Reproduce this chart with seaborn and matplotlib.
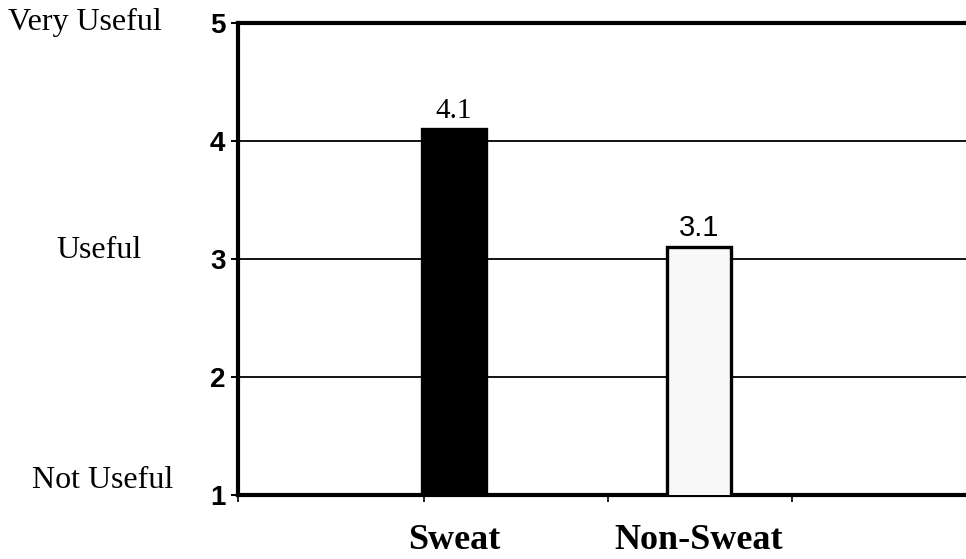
import matplotlib
matplotlib.use("Agg")
import matplotlib.pyplot as plt
import seaborn as sns
import pandas as pd

# Data
categories = ["Sweat", "Non-Sweat"]
ratings = [4.1, 3.1]
rating_labels = ["4.1", "3.1"]
scale_labels = ["Very Useful", "Useful", "Not Useful"]
y_ticks = [1, 2, 3, 4, 5]

sns.set_theme(style="white")
plt.rcParams["font.family"] = ["Liberation Sans", "DejaVu Sans"]
plt.rcParams["text.color"] = "black"
plt.rcParams["xtick.color"] = "black"
plt.rcParams["ytick.color"] = "black"

W, H = 966, 559
fig = plt.figure(figsize=(W / 100, H / 100), dpi=100)
ax_left, ax_right, ax_top, ax_bottom = 238, 966, 23, 495
ax = fig.add_axes([ax_left / W, (H - ax_bottom) / H,
                   (ax_right - ax_left) / W, (ax_bottom - ax_top) / H])

df = pd.DataFrame({"group": categories, "rating": ratings})
sns.barplot(data=df, x="group", y="rating", hue="group",
            palette=["#000000", "#f8f8f8"], order=categories,
            width=0.26, edgecolor="black", linewidth=2.4,
            legend=False, ax=ax, zorder=3)

# horizontal grid lines
for v in y_ticks[1:-1]:
    ax.axhline(v, color="black", lw=1.3, zorder=1)

ax.set_ylim(1, 5)
ax.set_xlim(-0.882, 2.09)

# frame
for side in ["left", "bottom", "top"]:
    ax.spines[side].set_visible(True)
    ax.spines[side].set_color("black")
    ax.spines[side].set_linewidth(3.0)
ax.spines["right"].set_visible(False)

ax.set_yticks(y_ticks)
ax.set_yticklabels([str(t) for t in y_ticks],
                   fontdict={"fontsize": 20, "fontweight": "bold",
                             "family": "Liberation Sans"})
ax.tick_params(axis="y", which="major", left=True, length=5, width=1.4,
               color="black", pad=4, labelsize=20, labelcolor="black")

# category separator ticks and centered category labels
ax.set_xticks([-0.882, -0.122, 0.629, 1.38])
ax.set_xticklabels([])
ax.tick_params(axis="x", which="major", bottom=True, length=5, width=1.2,
               color="black", direction="out")
ax.set_xticks([0, 1], minor=True)
ax.set_xticklabels(categories, minor=True,
                   fontdict={"fontsize": 26, "fontweight": "bold",
                             "family": "Liberation Serif"})
ax.tick_params(axis="x", which="minor", length=0, pad=21, labelsize=26,
               labelcolor="black")
ax.set_xlabel("")
ax.set_ylabel("")

# value labels above bars
fonts = [["Liberation Serif"], ["Liberation Sans"]]
for patch, lab, fam in zip(ax.patches, rating_labels, fonts):
    ax.annotate(lab, (patch.get_x() + patch.get_width() / 2, patch.get_height()),
                xytext=(0, 4), textcoords="offset points", ha="center",
                va="bottom", fontsize=21, family=fam, color="black", zorder=4)

# scale descriptions on the left
text_pos = {"Very Useful": (85, 22), "Useful": (99, 250), "Not Useful": (103, 480)}
for lab in scale_labels:
    px, py = text_pos[lab]
    fig.text(px / W, 1 - py / H, lab, ha="center", va="center", fontsize=23,
             family=["Liberation Serif"], color="black")

fig.savefig("out.png", dpi=100)
